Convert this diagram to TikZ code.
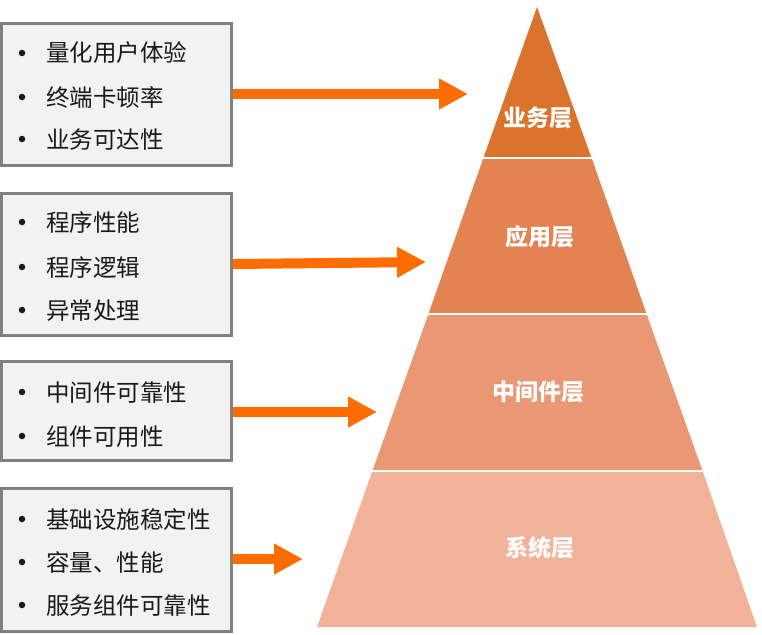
\documentclass[tikz,border=0pt]{standalone}
\usepackage{fontspec}
\newfontfamily\cjk{Noto Sans CJK SC}
\usetikzlibrary{arrows.meta}
\definecolor{boxfill}{RGB}{242,242,242}
\definecolor{boxline}{RGB}{128,128,128}
\definecolor{arrowc}{RGB}{255,108,0}
\definecolor{lay1}{RGB}{217,115,46}
\definecolor{lay2}{RGB}{226,131,81}
\definecolor{lay3}{RGB}{233,152,115}
\definecolor{lay4}{RGB}{242,178,154}
\tikzset{
  infobox/.style={draw=boxline, fill=boxfill, line width=3pt, inner sep=0pt, minimum width=230pt},
  item/.style={anchor=base west, inner sep=0pt, font=\cjk\fontsize{23.5}{25}\selectfont, text=black!90},
  bul/.style={circle, fill=black!90, inner sep=0pt, minimum size=6.5pt},
  layerlabel/.style={inner sep=0pt, font=\cjk\bfseries\fontsize{23}{25}\selectfont, text=white},
  bigarrow/.style={draw=arrowc, line width=10pt, -{Triangle[length=29pt,width=29pt]}},
  sep/.style={draw=white, line width=2.5pt}
}
\begin{document}
\begin{tikzpicture}[x=1pt,y=-1pt]
\useasboundingbox (0,0) rectangle (762,634);
% pyramid layers
\fill[lay1] (537,7) -- (483.4,158) -- (591.6,158) -- cycle;
\fill[lay2] (483.4,158) -- (428.4,314) -- (646.6,314) -- (591.6,158) -- cycle;
\fill[lay3] (428.4,314) -- (372.4,471) -- (702.6,471) -- (646.6,314) -- cycle;
\fill[lay4] (372.4,471) -- (317,627) -- (757,627) -- (702.6,471) -- cycle;
\draw[sep] (470,158) -- (610,158);
\draw[sep] (415,314) -- (660,314);
\draw[sep] (360,471) -- (715,471);
\node[layerlabel] (l1) at (538,118) {业务层};
\node[layerlabel] (l2) at (540,237) {应用层};
\node[layerlabel] (l3) at (538,392) {中间件层};
\node[layerlabel] (l4) at (540,548) {系统层};
% boxes
\node[infobox, minimum height=142pt] (b1) at (116.5,94.5) {};
\node[infobox, minimum height=142pt] (b2) at (116.5,264.5) {};
\node[infobox, minimum height=99pt] (b3) at (116.5,411) {};
\node[infobox, minimum height=143pt] (b4) at (116.5,560) {};
% box texts
\foreach \y/\t/\n in {53/量化用户体验/a1, 97/终端卡顿率/a2, 139/业务可达性/a3,
                      222/程序性能/b1x, 267/程序逻辑/b2x, 310/异常处理/b3x,
                      392/中间件可靠性/c1, 436/组件可用性/c2,
                      519/基础设施稳定性/d1, 562/容量、性能/d2, 605/服务组件可靠性/d3}{
  \node[bul] (bul\n) at (22,\y) {};
  \node[item] (it\n) at (46,\y+9) {\t};
}
% arrows
\coordinate (t1) at (468,94);
\coordinate (t2) at (426,262);
\coordinate (t3) at (377,412);
\coordinate (t4) at (303,559);
\draw[bigarrow] (b1.east |- t1) -- (t1);
\draw[bigarrow] (233,264) -- (t2);
\draw[bigarrow] (b3.east |- t3) -- (t3);
\draw[bigarrow] (b4.east |- t4) -- (t4);
\end{tikzpicture}
\end{document}
